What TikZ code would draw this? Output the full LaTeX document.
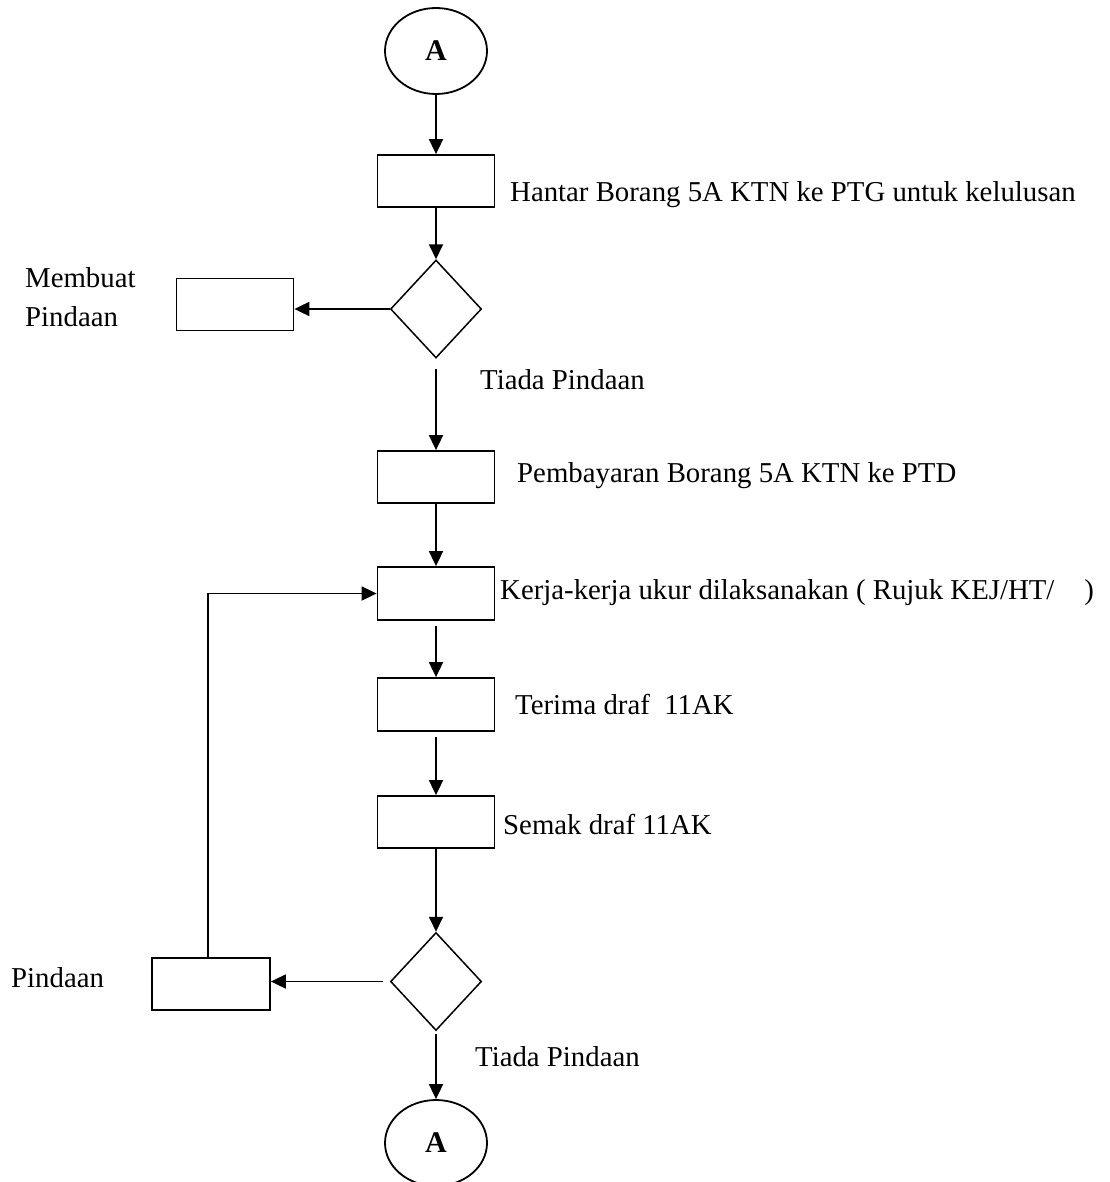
\documentclass[tikz,border=0pt]{standalone}
\usepackage{fontspec}
\setmainfont{Liberation Serif}
\usetikzlibrary{shapes.geometric, positioning, arrows.meta}

\tikzset{
    proc/.style={draw, line width=1.8pt, minimum width=117pt, minimum height=52pt, inner sep=0pt},
    decide/.style={draw, diamond, line width=1.5pt, minimum width=91pt, minimum height=98pt, inner sep=0pt},
    conn/.style={draw, ellipse, line width=1.8pt, minimum width=102pt, minimum height=86pt, inner sep=0pt, font=\fontsize{30}{34}\selectfont\bfseries},
    lbl/.style={anchor=west, inner sep=0pt, align=left, font=\fontsize{28.8}{39}\selectfont},
    flow/.style={line width=1.8pt, -{Triangle[length=15pt, width=14pt]}}
}

\begin{document}
\begin{tikzpicture}[x=1pt, y=-1pt, node distance=100pt, on grid]
    \useasboundingbox (0,0) rectangle (1109,1182);

    \node[conn] (startA) at (436,51) {A};
    \node[proc, below=130pt of startA] (hantar) {};
    \node[decide, below=128pt of hantar] (semak1) {};
    \node[proc, left=201pt of semak1, yshift=4.5pt] (membuat) {};
    \node[proc, below=168pt of semak1] (bayar) {};
    \node[proc, below=116.5pt of bayar, minimum height=53pt] (ukur) {};
    \node[proc, below=111pt of ukur, minimum height=53pt] (terima) {};
    \node[proc, below=117.5pt of terima] (semak) {};
    \node[decide, below=159.5pt of semak] (semak2) {};
    \node[proc, left=225pt of semak2, yshift=-2.5pt, minimum width=118pt] (pindaan) {};
    \node[conn, below=161.5pt of semak2] (endA) {A};

    % labels
    \node[lbl] (tHantar) at (510,195) {Hantar Borang 5A KTN ke PTG untuk kelulusan};
    \node[lbl] (tMembuat) at (25,297) {Membuat\\Pindaan};
    \node[lbl] (tTiada1) at (480,380) {Tiada Pindaan};
    \node[lbl] (tBayar) at (517,476) {Pembayaran Borang 5A KTN ke PTD};
    \node[lbl] (tUkur) at (500,593) {Kerja-kerja ukur dilaksanakan ( Rujuk KEJ/HT/\hspace{30pt})};
    \node[lbl] (tTerima) at (515,704) {Terima draf \ 11AK};
    \node[lbl] (tSemak) at (503,824) {Semak draf 11AK};
    \node[lbl] (tPindaan) at (11,978) {Pindaan};
    \node[lbl] (tTiada2) at (475,1057) {Tiada Pindaan};

    \draw[flow] (startA) -- (hantar);
    \draw[flow] (hantar) -- (semak1);
    \draw[flow] (semak1.west) -- (semak1.west -| membuat.east);
    \draw[flow, shorten <=10pt] (semak1) -- (bayar);
    \draw[flow] (bayar) -- (ukur);
    \draw[flow, shorten <=5pt] (ukur) -- (terima);
    \draw[flow, shorten <=5pt] (terima) -- (semak);
    \draw[flow] (semak) -- (semak2);
    \draw[flow, shorten <=7pt] (semak2.west) -- (semak2.west -| pindaan.east);
    \draw[flow] ([xshift=-3pt]pindaan.north) |- (ukur.west);
    \draw[flow, shorten <=3pt] (semak2) -- (endA);
\end{tikzpicture}
\end{document}
